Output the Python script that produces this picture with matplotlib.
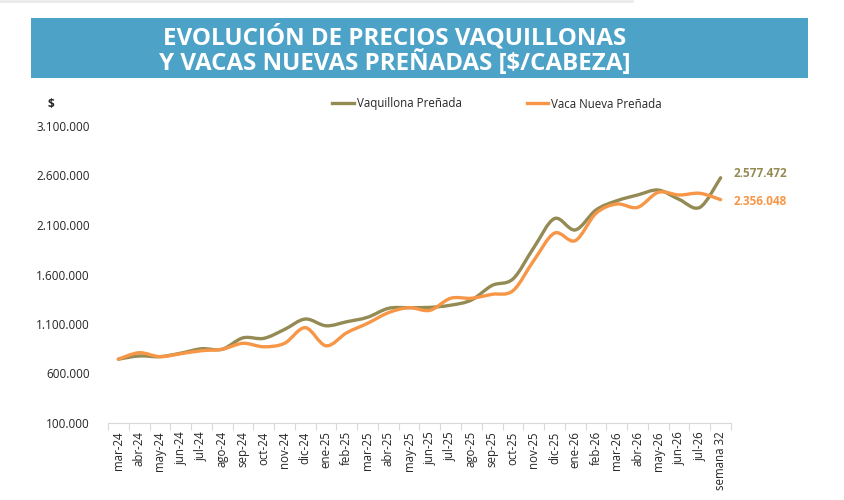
import numpy as np
import matplotlib
matplotlib.use("Agg")
import matplotlib.pyplot as plt
from matplotlib.path import Path
from matplotlib.patches import PathPatch, Rectangle
from matplotlib.lines import Line2D
from matplotlib.ticker import FuncFormatter

# ---- data (values in $/cabeza) ----
months = [
    "mar-24", "abr-24", "may-24", "jun-24", "jul-24", "ago-24", "sep-24", "oct-24",
    "nov-24", "dic-24", "ene-25", "feb-25", "mar-25", "abr-25", "may-25", "jun-25",
    "jul-25", "ago-25", "sep-25", "oct-25", "nov-25", "dic-25", "ene-26", "feb-26",
    "mar-26", "abr-26", "may-26", "jun-26", "jul-26", "semana 32",
]
vaquillona = [
    745000, 777000, 770000, 805000, 850000, 845000, 960000, 955000, 1045000, 1150000,
    1082000, 1123000, 1168000, 1258000, 1265000, 1268000, 1290000, 1342000, 1490000, 1555000,
    1870000, 2165000, 2050000, 2252000, 2345000, 2403000, 2453000, 2359000, 2278000, 2577472,
]
vaca = [
    745000, 810000, 770000, 800000, 830000, 845000, 905000, 870000, 905000, 1063000,
    880000, 1012000, 1107000, 1214000, 1265000, 1238000, 1360000, 1360000, 1400000, 1436000,
    1740000, 2018000, 1942000, 2218000, 2312000, 2278000, 2430000, 2403000, 2420000, 2356048,
]
series_names = ["Vaquillona Preñada", "Vaca Nueva Preñada"]
y_ticks = [100000, 600000, 1100000, 1600000, 2100000, 2600000, 3100000]

OLIVE = "#948A54"
ORANGE = "#F79646"
BANNER = "#4DA3C7"
TEXT = "#262626"

plt.rcParams["font.family"] = ["Open Sans", "DejaVu Sans"]


def smooth_path(y):
    """Catmull-Rom through the points, as an Excel 'smoothed line'."""
    x = np.arange(len(y), dtype=float)
    y = np.asarray(y, dtype=float)
    pts = np.column_stack([x, y])
    verts = [pts[0]]
    codes = [Path.MOVETO]
    n = len(pts)
    for i in range(n - 1):
        p0 = pts[i - 1] if i > 0 else pts[i]
        p1 = pts[i]
        p2 = pts[i + 1]
        p3 = pts[i + 2] if i + 2 < n else pts[i + 1]
        c1 = p1 + (p2 - p0) / 6.0
        c2 = p2 - (p3 - p1) / 6.0
        verts += [c1, c2, p2]
        codes += [Path.CURVE4] * 3
    return Path(verts, codes)


def miles(v, pos=None):
    return f"{int(round(v)):,}".replace(",", ".")


fig = plt.figure(figsize=(8.45, 5.0), dpi=100)
fig.patch.set_facecolor("white")

# faint strip at the very top
fig.add_artist(Line2D([0, 0.748], [0.999, 0.999], color="#ebebeb", lw=2,
                      transform=fig.transFigure))

# title banner
fig.add_artist(Rectangle((31 / 845, 1 - 78 / 500), (808 - 31) / 845, 60 / 500,
                         transform=fig.transFigure, facecolor=BANNER, edgecolor="none"))
fig.text(395 / 845, 1 - 50.5 / 500,
         "EVOLUCIÓN DE PRECIOS VAQUILLONAS\nY VACAS NUEVAS PREÑADAS [$/CABEZA]",
         ha="center", va="center", color="white", fontsize=17.4, fontweight="bold",
         linespacing=0.98)

ax = fig.add_axes([108 / 845, 1 - 423 / 500, (731 - 108) / 845, (423 - 126) / 500])
ax.set_xlim(-0.5, len(months) - 0.5)
ax.set_ylim(y_ticks[0], y_ticks[-1])

for vals, col in [(vaquillona, OLIVE), (vaca, ORANGE)]:
    ax.add_patch(PathPatch(smooth_path(vals), facecolor="none", edgecolor=col,
                           lw=2.4, capstyle="round", joinstyle="round", zorder=3))

# end-point value labels
last = len(months) - 1
ax.annotate(miles(vaquillona[-1]), (last, vaquillona[-1]),
            xytext=(9, 3), textcoords="offset points", ha="left", va="center",
            color=OLIVE, fontsize=8.5, fontweight="bold", annotation_clip=False)
ax.annotate(miles(vaca[-1]), (last, vaca[-1]),
            xytext=(9, -1), textcoords="offset points", ha="left", va="center",
            color=ORANGE, fontsize=8.5, fontweight="bold", annotation_clip=False)

# axes styling
for s in ["top", "right", "left"]:
    ax.spines[s].set_visible(False)
ax.spines["bottom"].set_color("#d9d9d9")
ax.spines["bottom"].set_linewidth(0.8)

ax.set_yticks(y_ticks)
ax.yaxis.set_major_formatter(FuncFormatter(miles))
ax.tick_params(axis="y", length=0, pad=13, labelsize=8.5, labelcolor=TEXT)

ax.set_xticks(range(len(months)))
ax.set_xticklabels(months, rotation=90, fontsize=8.3, color=TEXT)
ax.set_xticks(np.arange(-0.5, len(months)), minor=True)
ax.tick_params(axis="x", which="major", length=0, pad=6)
ax.tick_params(axis="x", which="minor", length=5, color="#d9d9d9", width=0.8)

fig.text(48 / 845, 1 - 105 / 500, "$", ha="left", va="center", fontsize=8.5,
         fontweight="bold", color=TEXT)

# legend
handles = [Line2D([], [], color=OLIVE, lw=2.4), Line2D([], [], color=ORANGE, lw=2.4)]
fig.legend(handles, series_names, loc="center left",
           bbox_to_anchor=(322 / 845, 1 - 104 / 500), ncol=2, frameon=False,
           fontsize=8.3, handlelength=1.9, handletextpad=0.25, columnspacing=5.6,
           labelcolor=TEXT)

fig.savefig("out.png", dpi=100, facecolor="white")
